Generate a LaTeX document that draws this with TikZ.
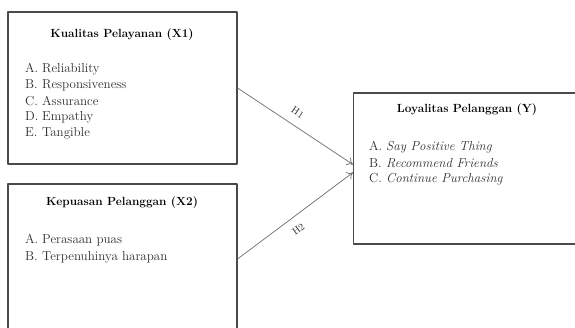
\documentclass[tikz,border=0pt]{standalone}
\usetikzlibrary{arrows.meta}
\definecolor{boxgray}{HTML}{4A4A4A}
\definecolor{txtgray}{HTML}{2E2E2E}
\begin{document}
\begin{tikzpicture}[x=1pt,y=-1pt,line cap=round,line join=round,>={To[length=6pt,width=9pt]}]
  \useasboundingbox (0,0) rectangle (575,327);
  \tikzset{
    var/.style={draw=boxgray,line width=1.1pt,minimum width=229pt,inner sep=0pt},
    head/.style={font=\fontsize{11.8}{13}\selectfont\bfseries},
    item/.style={anchor=west,inner sep=0pt,text=txtgray,font=\fontsize{13}{14}\selectfont},
    hyp/.style={draw=gray!85!black,line width=0.7pt,->},
    hlabel/.style={font=\fontsize{10}{11}\selectfont,text=txtgray,inner sep=0pt}
  }
  % variable boxes
  \node[var,minimum height=152pt] (x1) at (122.5,88) {};
  \node[var,minimum height=150pt] (x2) at (122.5,259) {};
  \node[var,minimum height=151pt] (y) at (468,168.5) {};
  % Kualitas Pelayanan
  \node[head] (x1t) at (122,35) {Kualitas Pelayanan (X1)};
  \foreach \k/\t [count=\i] in {A/Reliability,B/Responsiveness,C/Assurance,D/Empathy,E/Tangible}
    \node[item] (x1i\i) at (25,53+16*\i) {\makebox[17pt][l]{\k.}\t};
  % Kepuasan Pelanggan
  \node[head] (x2t) at (122,203) {Kepuasan Pelanggan (X2)};
  \node[item] (x2i1) at (25,240) {\makebox[17pt][l]{A.}Perasaan puas};
  \node[item] (x2i2) at (25,257) {\makebox[17pt][l]{B.}Terpenuhinya harapan};
  % Loyalitas Pelanggan
  \node[head] (yt) at (467,110) {Loyalitas Pelanggan (Y)};
  \foreach \k/\t [count=\i] in {A/Say Positive Thing,B/Recommend Friends,C/Continue Purchasing}
    \node[item] (yi\i) at (369,131+16*\i) {\makebox[17pt][l]{\k.}\textit{\t}};
  % hypotheses
  \draw[hyp] (x1.east) -- ([yshift=4pt]y.west) node[hlabel,pos=0.46,sloped,above=9pt] {H1};
  \draw[hyp] (x2.east) -- ([yshift=-4pt]y.west) node[hlabel,pos=0.46,sloped,below=9pt] {H2};
\end{tikzpicture}
\end{document}
